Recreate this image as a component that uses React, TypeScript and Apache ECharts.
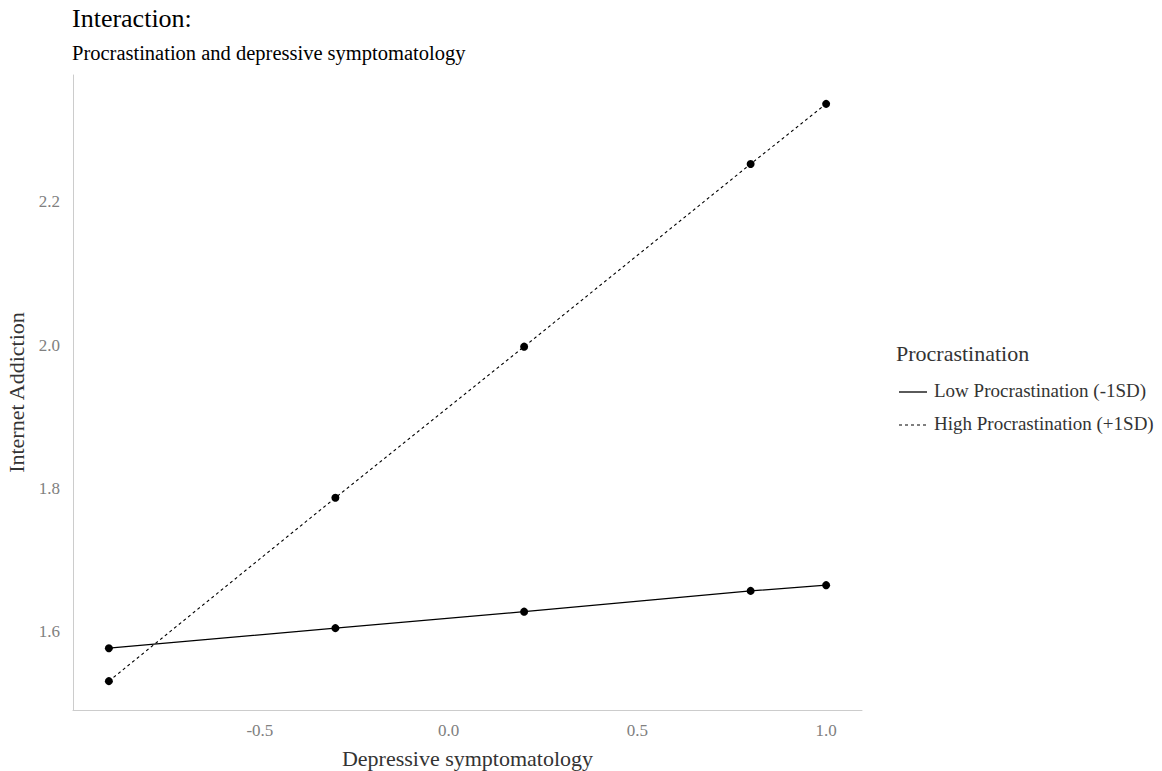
import React, { useEffect, useRef } from "react";
import * as echarts from "echarts";

const xValues = [-0.9, -0.3, 0.2, 0.8, 1.0];
const lowValues = [1.577, 1.605, 1.628, 1.657, 1.665];
const highValues = [1.531, 1.787, 1.998, 2.253, 2.337];
const seriesNames = ["Low Procrastination (-1SD)", "High Procrastination (+1SD)"];
const xTicks = [-0.5, 0.0, 0.5, 1.0];
const yTicks = [1.6, 1.8, 2.0, 2.2];

const FONT = "'Liberation Serif', 'Times New Roman', serif";

export default function App() {
  const ref = useRef<HTMLDivElement>(null);
  useEffect(() => {
    if (!ref.current) return;
    const chart = echarts.init(ref.current, null, { renderer: "svg" });
    const allY = [...lowValues, ...highValues];
    const yMinD = Math.min(...allY);
    const yMaxD = Math.max(...allY);
    const yPad = (yMaxD - yMinD) * 0.05;
    const xMinD = Math.min(...xValues);
    const xMaxD = Math.max(...xValues);
    const xPad = (xMaxD - xMinD) * 0.05;
    const lineStyles: any[] = [
      { color: "#000", width: 1.3, type: "solid" },
      { color: "#000", width: 1.1, type: [3, 3] },
    ];
    const dataSets = [lowValues, highValues];
    const legendGraphic: any[] = [
      {
        type: "text",
        left: 896,
        top: 342,
        style: { text: "Procrastination", font: `22px ${FONT}`, fill: "#333" },
      },
    ];
    seriesNames.forEach((name, i) => {
      const cy = 392 + i * 33;
      legendGraphic.push({
        type: "line",
        shape: { x1: 899, y1: cy, x2: 927, y2: cy },
        style: {
          stroke: "#000",
          lineWidth: lineStyles[i].width,
          lineDash: i === 1 ? [3, 3] : null,
        },
      });
      legendGraphic.push({
        type: "text",
        left: 934,
        top: cy - 11,
        style: { text: name, font: `19px ${FONT}`, fill: "#333" },
      });
    });
    chart.setOption({
      animation: false,
      backgroundColor: "#fff",
      title: [
        {
          text: "Interaction:",
          left: 67,
          top: 0,
          textStyle: { fontFamily: FONT, fontSize: 26, fontWeight: "normal", color: "#000" },
        },
        {
          text: "Procrastination and depressive symptomatology",
          left: 67,
          top: 37,
          textStyle: { fontFamily: FONT, fontSize: 20.5, fontWeight: "normal", color: "#000" },
        },
      ],
      grid: {
        left: 73,
        right: 300,
        top: 75,
        bottom: 61,
        containLabel: false,
        outerBoundsMode: "none",
      },
      xAxis: {
        type: "value",
        min: xMinD - xPad,
        max: xMaxD + xPad,
        name: "Depressive symptomatology",
        nameLocation: "middle",
        nameGap: 37,
        nameTextStyle: { fontFamily: FONT, fontSize: 22, color: "#333" },
        axisLine: { show: true, onZero: false, lineStyle: { color: "#cccccc", width: 1 } },
        axisTick: { show: false },
        splitLine: { show: false },
        axisLabel: {
          customValues: xTicks,
          formatter: (v: number) => v.toFixed(1),
          fontFamily: FONT,
          fontSize: 17,
          color: "#808080",
          margin: 12,
        },
      },
      yAxis: {
        type: "value",
        min: yMinD - yPad,
        max: yMaxD + yPad,
        name: "Internet Addiction",
        nameLocation: "middle",
        nameGap: 42,
        nameTextStyle: { fontFamily: FONT, fontSize: 22, color: "#333" },
        axisLine: { show: true, onZero: false, lineStyle: { color: "#cccccc", width: 1 } },
        axisTick: { show: false },
        splitLine: { show: false },
        axisLabel: {
          customValues: yTicks,
          formatter: (v: number) => v.toFixed(1),
          fontFamily: FONT,
          fontSize: 17,
          color: "#808080",
          margin: 13,
        },
      },
      series: seriesNames.map((name, i) => ({
        name,
        type: "line",
        data: xValues.map((x, j) => [x, dataSets[i][j]]),
        symbol: "circle",
        symbolSize: 8,
        itemStyle: { color: "#000" },
        lineStyle: lineStyles[i],
        z: 3 - i,
      })),
      graphic: legendGraphic,
    });
    return () => chart.dispose();
  }, []);
  return (
    <div
      ref={ref}
      style={{ position: "fixed", left: 0, top: 0, width: 1162, height: 771 }}
    />
  );
}
